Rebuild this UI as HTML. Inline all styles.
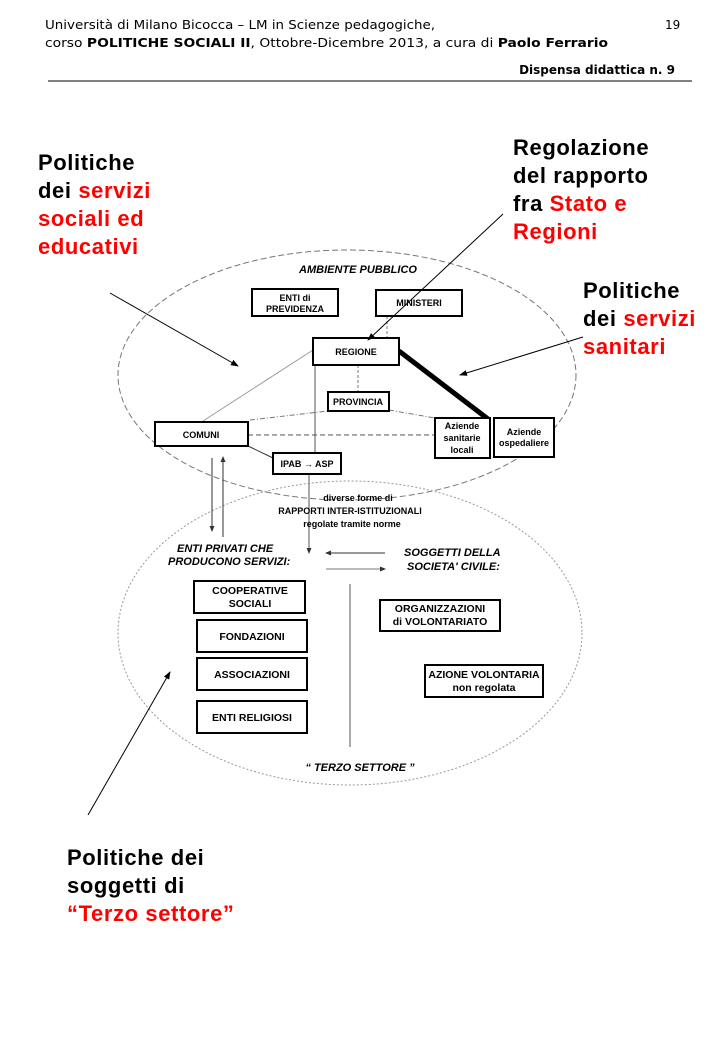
<!DOCTYPE html>
<html><head><meta charset="utf-8"><style>
body{margin:0;background:#fff;}
svg{display:block;font-family:"Liberation Sans",Arial,sans-serif;}
.h{font-family:"DejaVu Sans",Verdana,sans-serif;font-size:12px;}
.big{font-size:22px;fill:#000;font-weight:bold;letter-spacing:0.6px;}
.r{fill:#ff0000;}
.bx{fill:#fff;stroke:#000;stroke-width:2;}
.t{font-size:10.5px;font-weight:bold;text-anchor:middle;}
.ts{font-size:9px;font-weight:bold;text-anchor:middle;}
.it{font-size:11px;font-weight:bold;font-style:italic;}
</style></head><body>
<svg width="720" height="1040" viewBox="0 0 720 1040" xmlns="http://www.w3.org/2000/svg">
<defs>
<marker id="a" markerWidth="8" markerHeight="8" refX="7" refY="4" orient="auto" markerUnits="userSpaceOnUse"><path d="M0,1 L8,4 L0,7z" fill="#000"/></marker>
<marker id="s" markerWidth="6" markerHeight="6" refX="5" refY="3" orient="auto" markerUnits="userSpaceOnUse"><path d="M0,0.5 L6,3 L0,5.5z" fill="#333"/></marker>
</defs>
<text class="h" x="45" y="29" textLength="390" lengthAdjust="spacingAndGlyphs">Università di Milano Bicocca – LM in Scienze pedagogiche,</text>
<text class="h" x="665" y="29">19</text>
<text class="h" x="45" y="47" textLength="563" lengthAdjust="spacingAndGlyphs">corso <tspan font-weight="bold">POLITICHE SOCIALI II</tspan>, Ottobre-Dicembre 2013,  a cura di <tspan font-weight="bold">Paolo Ferrario</tspan></text>
<text class="h" x="675" y="74" text-anchor="end" font-weight="bold">Dispensa didattica n. 9</text>
<line x1="48" y1="81" x2="692" y2="81" stroke="#000" stroke-width="1"/>

<ellipse cx="347" cy="375" rx="229" ry="125" fill="none" stroke="#777" stroke-dasharray="6,3"/>
<ellipse cx="350" cy="633" rx="232" ry="152" fill="none" stroke="#999" stroke-dasharray="2,2"/>

<text class="it" x="358" y="273" text-anchor="middle" font-size="12.5">AMBIENTE  PUBBLICO</text>

<line x1="313" y1="350" x2="203" y2="421" stroke="#999"/>
<line x1="387" y1="316" x2="387" y2="338" stroke="#777" stroke-dasharray="3,2"/>
<line x1="358" y1="365" x2="358" y2="392" stroke="#777" stroke-dasharray="3,2"/>
<line x1="250" y1="420" x2="328" y2="411" stroke="#777" stroke-dasharray="5,2,1,2"/>
<line x1="389" y1="410" x2="435" y2="418" stroke="#777" stroke-dasharray="5,2,1,2"/>
<line x1="248" y1="435" x2="435" y2="435" stroke="#555" stroke-dasharray="5,3"/>
<line x1="248" y1="446" x2="273" y2="458" stroke="#333"/>
<line x1="315" y1="365" x2="315" y2="453" stroke="#555"/>
<line x1="309" y1="474" x2="309" y2="553" stroke="#555" marker-end="url(#s)"/>
<line x1="399" y1="351" x2="488" y2="419" stroke="#000" stroke-width="5"/>
<line x1="212" y1="458" x2="212" y2="531" stroke="#333" marker-end="url(#s)"/>
<line x1="223" y1="537" x2="223" y2="457" stroke="#333" marker-end="url(#s)"/>
<line x1="385" y1="553" x2="326" y2="553" stroke="#333" marker-end="url(#s)"/>
<line x1="326" y1="569" x2="385" y2="569" stroke="#777" marker-end="url(#s)"/>
<line x1="350" y1="584" x2="350" y2="747" stroke="#555"/>

<rect class="bx" x="252" y="289" width="86" height="27"/>
<text class="ts" x="295" y="301">ENTI di</text><text class="ts" x="295" y="312">PREVIDENZA</text>
<rect class="bx" x="376" y="290" width="86" height="26"/>
<text class="ts" x="419" y="306">MINISTERI</text>
<rect class="bx" x="313" y="338" width="86" height="27"/>
<text class="ts" x="356" y="355">REGIONE</text>
<rect class="bx" x="328" y="392" width="61" height="19"/>
<text class="ts" x="358" y="405" font-size="8">PROVINCIA</text>
<rect class="bx" x="155" y="422" width="93" height="24"/>
<text class="ts" x="201" y="438">COMUNI</text>
<rect class="bx" x="273" y="453" width="68" height="21"/>
<text class="ts" x="307" y="467" font-size="10">IPAB → ASP</text>
<rect class="bx" x="435" y="418" width="55" height="40"/>
<text class="ts" x="462" y="429">Aziende</text><text class="ts" x="462" y="441">sanitarie</text><text class="ts" x="462" y="453">locali</text>
<rect class="bx" x="494" y="418" width="60" height="39"/>
<text class="ts" x="524" y="435">Aziende</text><text class="ts" x="524" y="446">ospedaliere</text>

<text class="ts" x="358" y="501" font-size="10.5">diverse forme di</text>
<text class="ts" x="350" y="514" font-size="10.5">RAPPORTI INTER-ISTITUZIONALI</text>
<text class="ts" x="352" y="527" font-size="10.5">regolate tramite norme</text>

<text class="it" x="177" y="552" font-size="10.5">ENTI  PRIVATI  CHE</text>
<text class="it" x="168" y="565" font-size="10.5">PRODUCONO  SERVIZI:</text>
<text class="it" x="404" y="556" font-size="10.5">SOGGETTI DELLA</text>
<text class="it" x="407" y="570" font-size="10.5">SOCIETA' CIVILE:</text>

<rect class="bx" x="194" y="581" width="111" height="32"/>
<text class="t" x="250" y="594">COOPERATIVE</text><text class="t" x="250" y="607">SOCIALI</text>
<rect class="bx" x="197" y="620" width="110" height="32"/>
<text class="t" x="252" y="640">FONDAZIONI</text>
<rect class="bx" x="197" y="658" width="110" height="32"/>
<text class="t" x="252" y="678">ASSOCIAZIONI</text>
<rect class="bx" x="197" y="701" width="110" height="32"/>
<text class="t" x="252" y="721">ENTI RELIGIOSI</text>
<rect class="bx" x="380" y="600" width="120" height="31"/>
<text class="t" x="440" y="612">ORGANIZZAZIONI</text><text class="t" x="440" y="625">di  VOLONTARIATO</text>
<rect class="bx" x="425" y="665" width="118" height="32"/>
<text class="t" x="484" y="678">AZIONE VOLONTARIA</text><text class="t" x="484" y="691">non regolata</text>

<text class="it" x="360" y="771" text-anchor="middle" font-size="12.5">“ TERZO  SETTORE ”</text>

<line x1="110" y1="293" x2="238" y2="366" stroke="#000" marker-end="url(#a)"/>
<line x1="503" y1="214" x2="368" y2="340" stroke="#000" marker-end="url(#a)"/>
<line x1="583" y1="337" x2="460" y2="375" stroke="#000" marker-end="url(#a)"/>
<line x1="88" y1="815" x2="170" y2="672" stroke="#000" marker-end="url(#a)"/>

<g class="big">
<text x="38" y="170">Politiche</text>
<text x="38" y="198">dei <tspan class="r">servizi</tspan></text>
<text x="38" y="226" class="r">sociali ed</text>
<text x="38" y="254" class="r">educativi</text>
<text x="513" y="155">Regolazione</text>
<text x="513" y="183">del rapporto</text>
<text x="513" y="211">fra <tspan class="r">Stato e</tspan></text>
<text x="513" y="239" class="r">Regioni</text>
<text x="583" y="298">Politiche</text>
<text x="583" y="326">dei <tspan class="r">servizi</tspan></text>
<text x="583" y="354" class="r">sanitari</text>
<text x="67" y="865">Politiche dei</text>
<text x="67" y="893">soggetti di</text>
<text x="67" y="921" class="r">“Terzo settore”</text>
</g>
</svg>
</body></html>
